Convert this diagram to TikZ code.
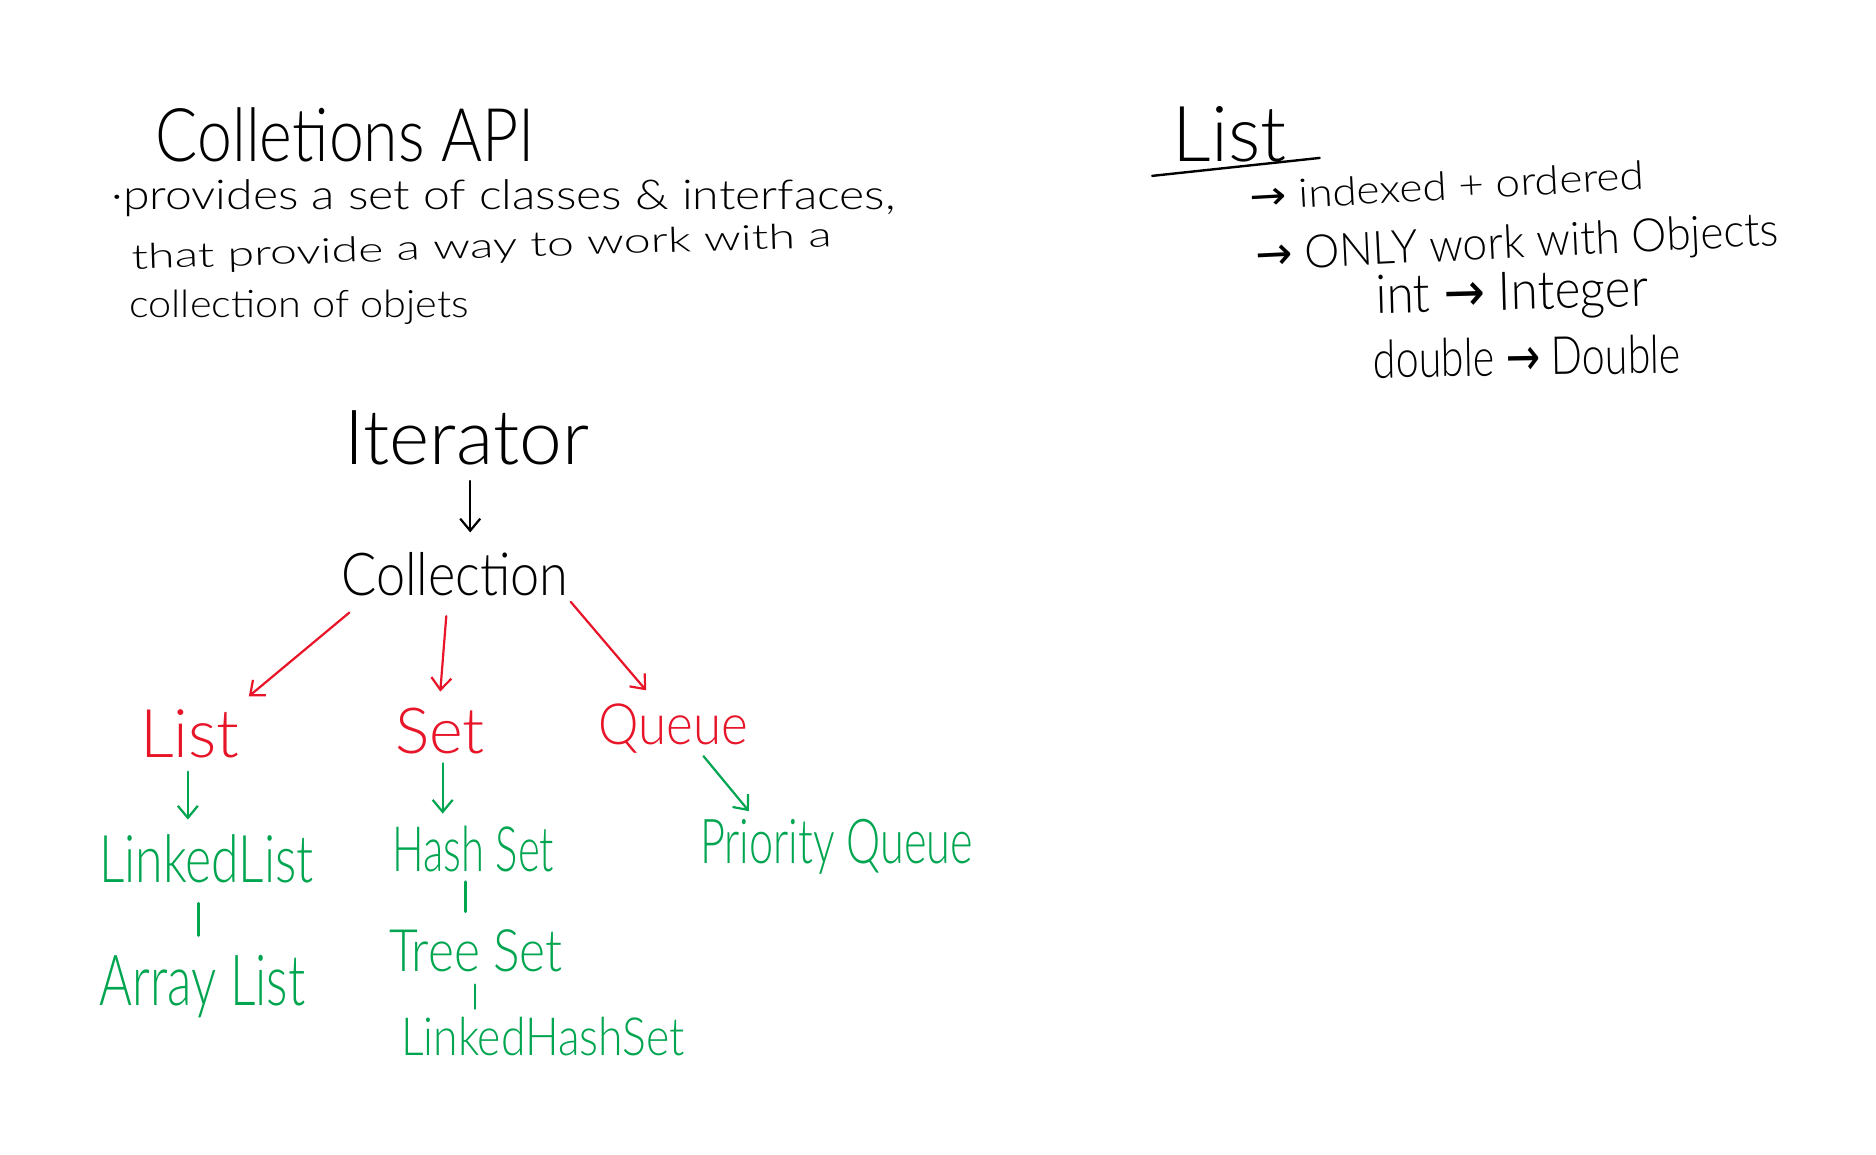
\documentclass[tikz,border=0pt]{standalone}
\usepackage{fontspec}
\usepackage{graphicx}
\newfontfamily\hand{Lato Light}
\newfontfamily\sym{DejaVu Sans}
\usetikzlibrary{arrows.meta}
\newdimen\pu \pu=1.1964pt
\newcommand{\hw}[3]{\resizebox{#1\pu}{#2\pu}{\hand #3}}
\definecolor{hred}{RGB}{232,20,40}
\definecolor{hgreen}{RGB}{0,165,80}
\tikzset{
 txt/.style={inner sep=0pt, anchor=base west},
 conn/.style={line width=2.2pt, line cap=round, line join=round, -{Straight Barb[length=12pt,width=20pt,line width=2.2pt]}},
 bar/.style={line width=2.6pt, line cap=round},
}
\begin{document}
\begin{tikzpicture}[x=1.1964pt,y=1.1964pt]
\path[use as bounding box, fill=white] (0,0) rectangle (1568,-965);
% notes left
\node[txt] (title) at (130,-135) {\hw{317}{45}{Colletions API}};
\node[txt] (l1) at (93,-175) {\hw{655}{25}{·provides a set of classes \& interfaces,}};
\node[txt, rotate=1.8] (l2) at (110,-225) {\hw{585}{21}{that provide a way to work with a}};
\node[txt] (l3) at (108,-265) {\hw{284}{23}{collection of objets}};
% notes right
\node[txt] (rl) at (980,-135) {\hw{95}{46}{List}};
\draw[line width=2.4pt, line cap=round] ([shift={(-17,-12)}]rl.base west) -- ([shift={(123,3)}]rl.base west);
\node[txt, rotate=3.1] (r1) at (1045,-176) {\hw{330}{24}{{\sym →} indexed + ordered}};
\node[txt, rotate=2.75] (r2) at (1050,-226) {\hw{437}{28}{{\sym →} ONLY work with Objects}};
\node[txt, rotate=1.5] (r3) at (1150,-262) {\hw{228}{32}{int {\sym →} Integer}};
\node[txt, rotate=1] (r4) at (1148,-316) {\hw{257}{32}{double {\sym →} Double}};
% tree
\node[txt] (iter) at (288,-388) {\hw{204}{45}{Iterator}};
\node[txt] (coll) at (285,-498) {\hw{190}{36}{Collection}};
\node[txt, text=hred] (list) at (117,-633) {\hw{83}{40}{List}};
\node[txt, text=hred] (set) at (330,-630) {\hw{75}{38}{Set}};
\node[txt, text=hred] (queue) at (500,-622) {\hw{125}{34}{Queue}};
\node[txt, text=hgreen] (ll) at (83,-738) {\hw{179}{40}{LinkedList}};
\node[txt, text=hgreen] (al) at (83,-840) {\hw{172}{42}{Array List}};
\node[txt, text=hgreen] (hs) at (328,-728) {\hw{135}{38}{Hash Set}};
\node[txt, text=hgreen] (ts) at (325,-812) {\hw{145}{35}{Tree Set}};
\node[txt, text=hgreen] (lhs) at (335,-882) {\hw{237}{32}{LinkedHashSet}};
\node[txt, text=hgreen] (pq) at (585,-722) {\hw{228}{37}{Priority Queue}};
% connectors
\draw[conn] ([shift={(105,-14)}]iter.base west) -- ([shift={(108,53)}]coll.base west);
\draw[conn, hred] ([shift={(7,-14)}]coll.base west) -- ([shift={(91,51)}]list.base west);
\draw[conn, hred] ([shift={(88,-17)}]coll.base west) -- ([shift={(38,52)}]set.base west);
\draw[conn, hred] ([shift={(192,-5)}]coll.base west) -- ([shift={(40,45)}]queue.base west);
\draw[conn, hgreen] ([shift={(40,-12)}]list.base west) -- ([shift={(74,53)}]ll.base west);
\draw[conn, hgreen] ([shift={(40,-8)}]set.base west) -- ([shift={(42,48)}]hs.base west);
\draw[conn, hgreen] ([shift={(88,-10)}]queue.base west) -- ([shift={(41,44)}]pq.base west);
\draw[bar, hgreen] ([shift={(83,-17)}]ll.base west) -- ([shift={(83,58)}]al.base west);
\draw[bar, hgreen] ([shift={(61,-9)}]hs.base west) -- ([shift={(64,50)}]ts.base west);
\draw[bar, hgreen] ([shift={(72,-11)}]ts.base west) -- ([shift={(62,39)}]lhs.base west);
\end{tikzpicture}
\end{document}
